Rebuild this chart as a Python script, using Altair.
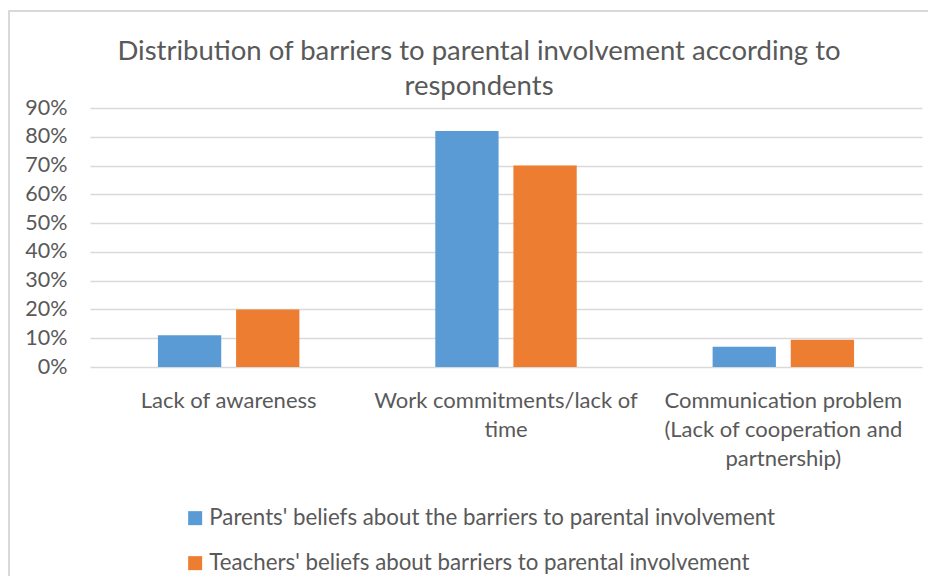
import altair as alt
import pandas as pd

categories = ["Lack of awareness", "Work commitments/lack of time",
              "Communication problem (Lack of cooperation and partnership)"]
series = ["Parents' beliefs about the barriers to parental involvement",
          "Teachers' beliefs about barriers to parental involvement"]
parents = [0.11, 0.82, 0.07]
teachers = [0.20, 0.70, 0.095]
y_ticks = [0.0, 0.1, 0.2, 0.3, 0.4, 0.5, 0.6, 0.7, 0.8, 0.9]

rows = []
for c, p, t in zip(categories, parents, teachers):
    rows.append({"category": c, "series": series[0], "value": p})
    rows.append({"category": c, "series": series[1], "value": t})
df = pd.DataFrame(rows)

TEXT = "#595959"
GRID = "#d9d9d9"

label_expr = (
    "datum.label == 'Work commitments/lack of time' ? ['Work commitments/lack of', 'time'] : "
    "datum.label == 'Communication problem (Lack of cooperation and partnership)' ? "
    "['Communication problem', '(Lack of cooperation and', 'partnership)'] : datum.label"
)

bars = alt.Chart(df).mark_bar().encode(
    x=alt.X("category:N", sort=categories, title=None,
            scale=alt.Scale(paddingInner=0.49, paddingOuter=0.245),
            axis=alt.Axis(labelAngle=0, domain=False, ticks=False, labelExpr=label_expr,
                          labelLineHeight=29, labelBaseline="top", labelPadding=23,
                          labelFontSize=22, labelColor=TEXT, labelLimit=400)),
    xOffset=alt.XOffset("series:N", sort=series, scale=alt.Scale(paddingInner=0.19)),
    y=alt.Y("value:Q", title=None,
            scale=alt.Scale(domain=[0, 0.9], nice=False),
            axis=alt.Axis(values=y_ticks, format=".0%", domain=False, ticks=False,
                          labelPadding=23, labelFontSize=21.5, labelColor=TEXT,
                          gridColor=GRID, gridWidth=1.5)),
    color=alt.Color("series:N", sort=series, title=None,
                    scale=alt.Scale(domain=series, range=["#5B9BD5", "#ED7D31"]),
                    legend=alt.Legend(orient="none", legendX=94, legendY=399,
                                      direction="vertical", symbolType="square",
                                      symbolSize=196, symbolStrokeWidth=0,
                                      labelFontSize=22.3, labelColor=TEXT,
                                      labelLimit=800, rowPadding=22, labelOffset=3)),
)

border = alt.Chart(pd.DataFrame({"a": [0]})).mark_rect(
    fill=None, stroke=GRID, strokeWidth=2
).encode(
    x=alt.value(-81), x2=alt.value(900), y=alt.value(-97), y2=alt.value(520)
)

chart = alt.layer(border, bars).properties(
    width=832, height=259,
    title=alt.TitleParams(
        ["Distribution of barriers to parental involvement according to", "respondents"],
        fontSize=27.5, font="Lato", fontWeight="normal", color=TEXT,
        anchor="middle", dx=-27, dy=104, lineHeight=35, offset=14),
    autosize=alt.AutoSizeParams(type="none"),
    padding={"left": 82, "top": 100, "right": 6, "bottom": 209},
).configure(font="Lato").configure_view(stroke=None)

chart.save("out.html", embed_options={"renderer": "svg", "actions": False})
